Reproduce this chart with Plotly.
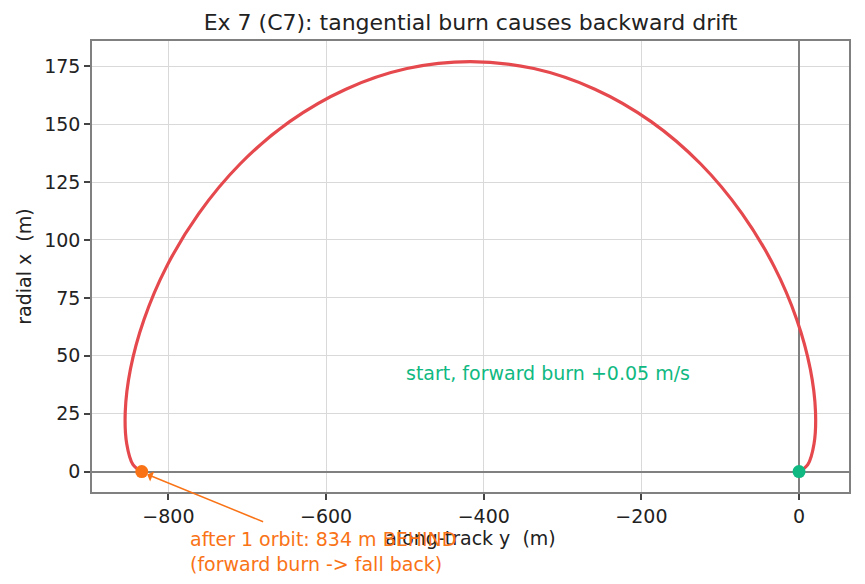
import plotly.graph_objects as go

# trajectory samples (along-track y, radial x), metres
along_track_y = [0, 11.1, 19.0, 20.9, 14.3, -2.8, -31.5, -72.3, -124.7, -187.6,
                 -259.0, -336.4, -417.0, -497.5, -574.9, -646.3, -709.2, -761.6,
                 -802.4, -831.1, -848.2, -854.8, -852.9, -845.0, -833.9]
radial_x = [0, 3.0, 11.9, 25.9, 44.3, 65.6, 88.5, 111.4, 132.8, 151.1,
            165.1, 174.0, 177.0, 174.0, 165.1, 151.1, 132.8, 111.4,
            88.5, 65.6, 44.3, 25.9, 11.9, 3.0, 0]

start_pt = (0, 0)
end_pt = (-833.9, 0)

x_ticks = [-800, -600, -400, -200, 0]
y_ticks = [0, 25, 50, 75, 100, 125, 150, 175]

RED = "#e5484d"
GREEN = "#10b981"
ORANGE = "#f97316"
FONT = "DejaVu Sans"
FS = 19

fig = go.Figure()
fig.add_trace(go.Scatter(x=along_track_y, y=radial_x, mode="lines",
                         line=dict(color=RED, width=3.2, shape="spline"),
                         hoverinfo="skip", showlegend=False))
fig.add_trace(go.Scatter(x=[start_pt[0]], y=[start_pt[1]], mode="markers",
                         marker=dict(color=GREEN, size=13), showlegend=False))
fig.add_trace(go.Scatter(x=[end_pt[0]], y=[end_pt[1]], mode="markers",
                         marker=dict(color=ORANGE, size=13), showlegend=False))

# arrow
fig.add_annotation(x=-827, y=-1.2, ax=-678, ay=-21.9, axref="x", ayref="y",
                   xref="x", yref="y", text="", showarrow=True,
                   arrowhead=1, arrowsize=1.2, arrowwidth=1.5, arrowcolor=ORANGE)
fig.add_annotation(x=-775, y=-0.133, xref="x", yref="paper",
                   text="after 1 orbit: 834 m BEHIND<br>(forward burn -> fall back)",
                   showarrow=False, xanchor="left", yanchor="middle", align="left",
                   font=dict(family=FONT, size=FS, color=ORANGE))
fig.add_annotation(x=-501, y=42.4, xref="x", yref="y",
                   text="start, forward burn +0.05 m/s", showarrow=False,
                   xanchor="left", yanchor="middle",
                   font=dict(family=FONT, size=FS, color=GREEN))

axis_common = dict(showline=True, mirror=True, linecolor="#808080", linewidth=1.5,
                   showgrid=True, gridcolor="#d9d9d9", gridwidth=1,
                   zeroline=True, zerolinecolor="#808080", zerolinewidth=1.5,
                   ticks="outside", ticklen=6, tickwidth=1.5, tickcolor="#444444",
                   tickfont=dict(family=FONT, size=FS, color="#222222"))

fig.update_xaxes(range=[-897, 63.4], tickvals=x_ticks,
                 ticktext=[("\u2212" + str(-v)) if v < 0 else str(v) for v in x_ticks],
                 title=dict(text="along-track y  (m)", standoff=6,
                            font=dict(family=FONT, size=FS, color="#222222")),
                 **axis_common)
fig.update_yaxes(range=[-8.8, 185.9], tickvals=y_ticks,
                 title=dict(text="radial x  (m)", standoff=8,
                            font=dict(family=FONT, size=FS, color="#222222")),
                 **axis_common)

fig.update_layout(
    width=865, height=584,
    margin=dict(l=92, r=16, t=41, b=92),
    paper_bgcolor="white", plot_bgcolor="white",
    title=dict(text="Ex 7 (C7): tangential burn causes backward drift",
               x=0.5, xref="paper", xanchor="center", y=0.962, yanchor="middle",
               font=dict(family=FONT, size=22, color="#222222")),
    font=dict(family=FONT),
)

fig.write_html("out.html")
